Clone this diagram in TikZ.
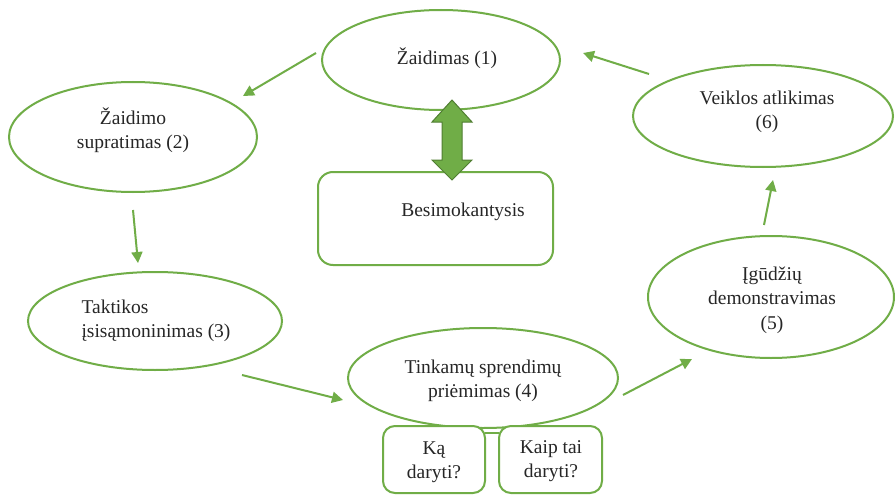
\documentclass[tikz,border=0pt]{standalone}
\usepackage{fontspec}
\setmainfont{Liberation Serif}
\usetikzlibrary{shapes.geometric,arrows.meta}
\definecolor{grn}{HTML}{70AD47}
\definecolor{dgrn}{HTML}{507E32}
\tikzset{
  oval/.style={ellipse,draw=grn,line width=2pt,fill=white,inner sep=0pt},
  lbl/.style={font=\fontsize{19.5}{24.5}\selectfont,align=center,inner sep=0pt,text=black!85},
  rbox/.style={draw=grn,line width=2pt,rounded corners=12pt,fill=white},
  flow/.style={draw=grn,line width=2pt,-{Triangle[length=11pt,width=11pt]}},
}
\begin{document}
\begin{tikzpicture}[x=1pt,y=-1pt]
\useasboundingbox[fill=white] (0,0) rectangle (895,495);
% ellipses
\node[oval,minimum width=238,minimum height=100] (e1) at (441,60) {};
\node[oval,minimum width=248,minimum height=110] (e2) at (133,137) {};
\node[oval,minimum width=254,minimum height=98] (e3) at (155,321) {};
\node[oval,minimum width=270,minimum height=100] (e4) at (483,378) {};
\node[oval,minimum width=246,minimum height=122] (e5) at (771,297) {};
\node[oval,minimum width=260,minimum height=102] (e6) at (763,116) {};
% learner box
\node[rbox,minimum width=235,minimum height=93,rounded corners=15pt] (b0) at (435.5,218.5) {};
% small boxes
\draw[draw=grn,line width=2pt] (485,433) -- (499,433);
\node[rbox,minimum width=102,minimum height=67] (bk) at (434,459.5) {};
\node[rbox,minimum width=103,minimum height=67] (bh) at (550.5,459.5) {};
% labels
\node[lbl] (t1) at (447,58) {Žaidimas (1)};
\node[lbl] (t2) at (133,130) {Žaidimo\\supratimas (2)};
\node[lbl,align=left] (t3) at (156,321) {Taktikos\\įsisąmoninimas (3)};
\node[lbl] (t4) at (483,381) {Tinkamų sprendimų\\priėmimas (4)};
\node[lbl] (t5) at (772,300) {Įgūdžių\\demonstravimas\\(5)};
\node[lbl] (t6) at (767,112) {Veiklos atlikimas\\(6)};
\node[lbl] (t0) at (463,212) {Besimokantysis};
\node[lbl] (tk) at (434,462) {Ką\\daryti?};
\node[lbl] (th) at (551,461) {Kaip tai\\daryti?};
% double arrow
\draw[fill=grn,draw=dgrn,line width=1pt,line join=miter]
  (452,100) -- (472,122) -- (462,122) -- (462,160) -- (472,160) -- (452,180)
  -- (432,160) -- (442,160) -- (442,122) -- (432,122) -- cycle;
% arrow end coordinates
\coordinate (a61) at (649,74);
\coordinate (a16) at (583,53);
\coordinate (a12) at (316,53);
\coordinate (a21) at (243,96);
\coordinate (a23) at (133,210);
\coordinate (a32) at (138,263);
\coordinate (a34) at (242,375);
\coordinate (a43) at (343,400);
\coordinate (a45) at (623,395);
\coordinate (a54) at (692,359);
\coordinate (a56) at (764,225);
\coordinate (a65) at (773,180);
\draw[flow] (a61) -- (a16);
\draw[flow] (a12) -- (a21);
\draw[flow] (a23) -- (a32);
\draw[flow] (a34) -- (a43);
\draw[flow] (a45) -- (a54);
\draw[flow] (a56) -- (a65);
\end{tikzpicture}
\end{document}
